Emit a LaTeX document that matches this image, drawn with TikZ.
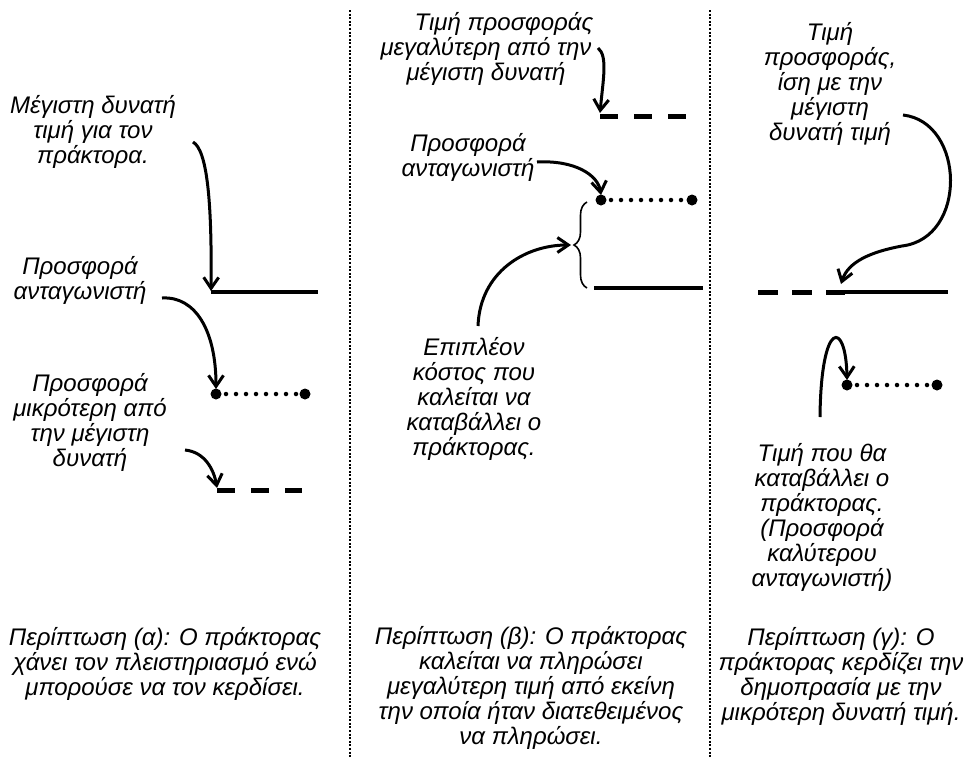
\documentclass[tikz,border=0pt]{standalone}
\usepackage{fontspec}
\setmainfont{Liberation Sans}
\usetikzlibrary{arrows.meta,decorations.pathreplacing}
\newcommand{\labelFont}[0]{\fontsize{24}{25}\selectfont\itshape}
\newcommand{\arrowWidth}[0]{3pt}
\newcommand{\levelWidth}[0]{4.5pt}

\begin{document}
\begin{tikzpicture}[x=1pt, y=-1pt]
  \tikzset{every node/.style={align=center, font=\labelFont, inner sep=0pt}}
  \tikzset{solidlevel/.style={line width=\levelWidth}}
  \tikzset{dashlevel/.style={line width=5pt, dash pattern=on 18pt off 16pt}}
  \tikzset{dotlevel/.style={line width=4.5pt, line cap=round, dash pattern=on 0pt off 10pt}}
  \tikzset{pointer/.style={line width=\arrowWidth, -{Straight Barb[length=11pt,width=15pt,line width=3pt]}}}
  \tikzset{divider/.style={line width=2pt, dash pattern=on 2pt off 1.6pt}}
  \useasboundingbox (0,0) rectangle (973,758);

  % dividers
  \coordinate (Div-1-top) at (350,10);
  \coordinate (Div-1-bot) at (350,758);
  \coordinate (Div-2-top) at (710,10);
  \coordinate (Div-2-bot) at (710,758);
  \draw[divider] (Div-1-top) -- (Div-1-bot);
  \draw[divider] (Div-2-top) -- (Div-2-bot);

  % case (a)
  \node (Max-a) at (93,132) {Μέγιστη δυνατή\\τιμή για τον\\πράκτορα.};
  \node (Bid-a) at (80,280) {Προσφορά\\ανταγωνιστή};
  \node (Low-a) at (90,422) {Προσφορά\\μικρότερη από\\την μέγιστη\\δυνατή};
  \node (Case-a) at (165,664) {Περίπτωση (α): Ο πράκτορας\\χάνει τον πλειστηριασμό ενώ\\μπορούσε να τον κερδίσει.};
  \coordinate (Sol-a-l) at (211,292);
  \coordinate (Sol-a-r) at (318,292);
  \coordinate (Dot-a-l) at (216,394);
  \coordinate (Dot-a-r) at (305,394);
  \coordinate (Dash-a-l) at (217,490);
  \coordinate (Dash-a-r) at (302,490);
  \draw[solidlevel] (Sol-a-l) -- (Sol-a-r);
  \draw[dotlevel] (Dot-a-l) -- (Dot-a-r);
  \fill (Dot-a-l) circle (5.5) (Dot-a-r) circle (5.5);
  \draw[dashlevel] (Dash-a-l) -- (Dash-a-r);
  \coordinate (Arr-a-1) at (193,142);
  \coordinate (Arr-a-2) at (162,298);
  \coordinate (Arr-a-3) at (185,450);
  \draw[pointer] (Arr-a-1) .. controls (207,150) and (212,200) .. ([yshift=1pt]Sol-a-l);
  \draw[pointer] (Arr-a-2) .. controls (195,296) and (216,330) .. ([yshift=5pt]Dot-a-l);
  \draw[pointer] (Arr-a-3) .. controls (205,452) and (214,470) .. ([yshift=2pt]Dash-a-l);

  % case (b)
  \node (High-b) at (486,49) {\hspace*{36pt}Τιμή προσφοράς\\μεγαλύτερη από την\\μέγιστη δυνατή};
  \node (Bid-b) at (468,157) {Προσφορά\\ανταγωνιστή};
  \node (Extra-b) at (474,399) {Επιπλέον\\κόστος που\\καλείται να\\καταβάλλει ο\\πράκτορας.};
  \node (Case-b) at (531,688) {Περίπτωση (β): Ο πράκτορας\\καλείται να πληρώσει\\μεγαλύτερη τιμή από εκείνη\\την οποία ήταν διατεθειμένος\\να πληρώσει.};
  \coordinate (Dash-b-l) at (600,116);
  \coordinate (Dash-b-r) at (688,116);
  \coordinate (Dot-b-l) at (601,200);
  \coordinate (Dot-b-r) at (692,200);
  \coordinate (Sol-b-l) at (594,288);
  \coordinate (Sol-b-r) at (703,288);
  \coordinate (Brace-b-top) at (587,202);
  \coordinate (Brace-b-bot) at (587,288);
  \coordinate (Brace-b-tip) at (573,245);
  \draw[dashlevel] (Dash-b-l) -- (Dash-b-r);
  \draw[dotlevel] (Dot-b-l) -- (Dot-b-r);
  \fill (Dot-b-l) circle (5.5) (Dot-b-r) circle (5.5);
  \draw[solidlevel] (Sol-b-l) -- (Sol-b-r);
  \draw[line width=1.6pt, decorate, decoration={brace, amplitude=13pt, aspect=0.5}] (Brace-b-bot) -- (Brace-b-top);
  \coordinate (Arr-b-1) at (598,48);
  \coordinate (Arr-b-2) at (537,162);
  \coordinate (Arr-b-3) at (478,326);
  \draw[pointer] (Arr-b-1) .. controls (608,56) and (603,80) .. ([yshift=3pt]Dash-b-l);
  \draw[pointer] (Arr-b-2) .. controls (575,160) and (598,175) .. ([yshift=5pt]Dot-b-l);
  \draw[pointer] (Arr-b-3) .. controls (480,272) and (525,245) .. ([xshift=-2pt]Brace-b-tip);

  % case (c)
  \node (Equal-c) at (830,84) {Τιμή\\προσφοράς,\\ίση με την\\μέγιστη\\δυνατή τιμή};
  \node (Pay-c) at (822,517) {Τιμή που θα\\καταβάλλει ο\\πράκτορας.\\(Προσφορά\\καλύτερου\\ανταγωνιστή)};
  \node (Case-c) at (841,676) {Περίπτωση (γ): Ο\\πράκτορας κερδίζει την\\δημοπρασία με την\\μικρότερη δυνατή τιμή.};
  \coordinate (Dash-c-l) at (758,292);
  \coordinate (Dash-c-r) at (845,292);
  \coordinate (Sol-c-r) at (948,292);
  \coordinate (Dot-c-l) at (847,385);
  \coordinate (Dot-c-r) at (937,385);
  \draw[line width=5pt, dash pattern=on 20pt off 14pt] (Dash-c-l) -- (Dash-c-r);
  \draw[solidlevel] (Dash-c-r) -- (Sol-c-r);
  \draw[dotlevel] (Dot-c-l) -- (Dot-c-r);
  \fill (Dot-c-l) circle (5.5) (Dot-c-r) circle (5.5);
  \coordinate (Arr-c-1) at (903,115);
  \coordinate (Arr-c-2) at (820,417);
  \draw[pointer] (Arr-c-1) .. controls (965,122) and (968,238) .. (902,246) .. controls (870,252) and (848,262) .. ([xshift=-4pt,yshift=8pt]Dash-c-r);
  \draw[pointer] (Arr-c-2) .. controls (821,318) and (846,320) .. ([yshift=5pt]Dot-c-l);
\end{tikzpicture}
\end{document}
